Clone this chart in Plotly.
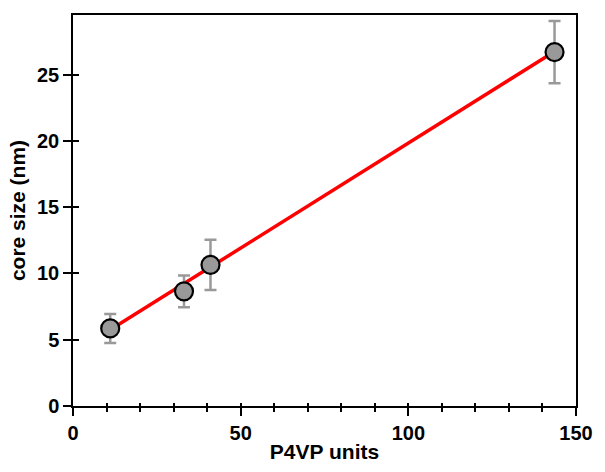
import plotly.graph_objects as go

p4vp_units = [11.1, 33.1, 41.0, 143.6]
core_size = [5.85, 8.65, 10.65, 26.7]
core_err = [1.1, 1.2, 1.9, 2.35]
fit_x = [11.1, 143.6]
fit_y = [5.75, 26.75]
x_ticks = [0, 50, 100, 150]
y_ticks = [0, 5, 10, 15, 20, 25]

FAMILY = "Liberation Sans, Arial, sans-serif"

fig = go.Figure()
fig.add_trace(go.Scatter(x=fit_x, y=fit_y, mode="lines",
                         line=dict(color="#ff0000", width=3.5), showlegend=False))
fig.add_trace(go.Scatter(
    x=p4vp_units, y=core_size, mode="markers",
    error_y=dict(type="data", array=core_err, visible=True, color="#999999",
                 thickness=2.5, width=6),
    marker=dict(size=18, color="#999999", line=dict(color="black", width=2.2)),
    showlegend=False))
# invisible trace to activate overlay axes
fig.add_trace(go.Scatter(x=[None], y=[None], xaxis="x2", yaxis="y2",
                         showlegend=False, hoverinfo="skip"))

font = dict(family=FAMILY, size=20, color="black")
title_font = dict(family=FAMILY, size=21, color="black")
fig.update_layout(
    width=605, height=472,
    margin=dict(l=73, r=20, t=15, b=66),
    paper_bgcolor="white", plot_bgcolor="white",
    font=font,
    xaxis=dict(range=[0, 150], tickvals=x_ticks,
               ticktext=["<b>%d</b>" % v for v in x_ticks],
               tickfont=font,
               ticks="outside", ticklen=8, tickwidth=1.5, tickcolor="black",
               minor=dict(dtick=10, ticks="outside", ticklen=4, tickwidth=1.5, tickcolor="black"),
               showline=True, linecolor="black", linewidth=1.5, mirror=True,
               showgrid=False, zeroline=False,
               title=dict(text="<b>P4VP units</b>", standoff=2, font=title_font)),
    xaxis2=dict(range=[0, 150], overlaying="x", side="bottom", anchor="y",
                tickvals=x_ticks, showticklabels=False,
                ticks="inside", ticklen=3, tickwidth=1.5, tickcolor="black",
                minor=dict(dtick=10, ticks="inside", ticklen=3, tickwidth=1.5, tickcolor="black"),
                showline=False, showgrid=False, zeroline=False),
    yaxis=dict(range=[0, 29.5], tickvals=y_ticks,
               ticktext=["<b>%d</b>" % v for v in y_ticks],
               tickfont=font,
               ticks="outside", ticklen=8, tickwidth=1.5, tickcolor="black",
               showline=True, linecolor="black", linewidth=1.5, mirror=True,
               showgrid=False, zeroline=False,
               title=dict(text="<b>core size (nm)</b>", standoff=6, font=title_font)),
    yaxis2=dict(range=[0, 29.5], overlaying="y", side="left", anchor="x",
                tickvals=y_ticks, showticklabels=False,
                ticks="inside", ticklen=6, tickwidth=1.5, tickcolor="black",
                showline=False, showgrid=False, zeroline=False),
)
fig.write_html("out.html")
